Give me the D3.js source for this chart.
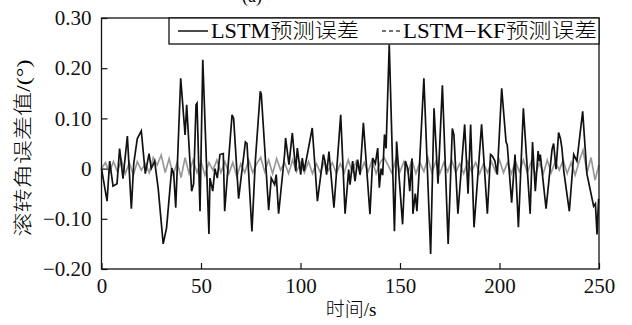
<!DOCTYPE html>
<html>
<head>
<meta charset="utf-8">
<script src="https://cdn.jsdelivr.net/npm/d3@7"></script>
<style>
  body { margin: 0; background: #fff; }
  svg { font-family: "Liberation Serif", "Noto Sans CJK SC", serif; }
</style>
</head>
<body>
<svg width="632" height="325"></svg>
<script>
// LSTM error (black, solid) — time (s) and value (deg)
const lstmTimes = [0, 2.8, 4.1, 5.8, 7.8, 9.1, 10.8, 13, 15, 16.2, 18, 20, 22, 23.9, 25, 26.7, 28.5, 31,
  32.7, 35.3, 36.3, 37.3, 39.8, 42, 42.8, 45.3, 46.3, 47.5, 48, 49.5, 50.9, 54, 54.5, 55.9, 57, 58.2, 59.5, 61.2,
  61.9, 65.6, 66.4, 68.9, 72.3, 73.1, 75.6, 77.3, 79.8, 80.3, 84, 85.3, 87, 87.8, 89, 92,
  92.5, 94.2, 95.9, 97.6, 98.4, 100.1, 100.9, 101.8, 103.5, 105.9, 108.5, 111.5, 112.3, 113.1, 114.3, 116.8, 120.2, 122.4,
  124.2, 124.9, 126.2, 127.4, 128.7, 129.9, 131.6, 134.9, 136.3, 137.6, 138.8, 139.6, 140.5, 141.3, 142.2, 143, 144.6,
  147.2, 148.3, 149.7, 151.3, 152.7, 154, 154.9, 156, 156.5, 157.7, 158.5, 159.9, 162, 165.4, 167.1, 169.1, 171.3,
  174.2, 176.3, 177.1, 179.1, 182.5, 184.2, 185.5, 187.2, 191, 193.9, 195.5, 196.4, 197.7, 198.9, 201.1, 203.3, 203.9,
  206.1, 207.3, 207.8, 209.5, 212, 215.4, 216.6, 218, 219.4, 220, 220.5, 223.4, 226.4, 227.2, 228.4, 229.7, 230.6,
  231.4, 232.3, 235.1, 237.3, 238.9, 241.8, 243.9, 247.3, 248.2, 249, 249.8];
const lstmValues = [0, -0.065, 0.015, -0.035, -0.03, 0.04, -0.02, 0.065, -0.08, 0.01, 0.06, 0.075, -0.01, 0.03, 0, 0.015, -0.04, -0.15,
  -0.118, 0.001, -0.01, -0.078, 0.18, 0.067, 0.127, -0.045, -0.03, 0.127, 0.13, -0.085, 0.217, -0.13, -0.019, -0.045, 0, -0.019, 0.028, 0.03,
  -0.085, 0.107, 0.1, -0.06, 0.053, 0.05, -0.125, 0.015, 0.154, 0.148, -0.083, -0.019, -0.032, -0.012, -0.09, 0.028,
  0.061, 0.008, 0.071, -0.005, 0.041, -0.012, 0.021, -0.005, 0.03, 0.081, -0.065, 0.028, 0.015, -0.012, 0.034, -0.078, 0.107, -0.09,
  -0.002, -0.032, 0.015, -0.025, 0.018, -0.012, 0.091, -0.091, 0.021, 0.01, 0.041, -0.038, 0, -0.013, 0.068, 0.04, 0.247,
  -0.125, 0.054, -0.025, -0.111, 0.015, -0.001, -0.045, 0.02, -0.09, -0.05, -0.085, 0.015, 0.18, -0.17, 0.12, -0.03, 0.166,
  -0.15, 0.08, 0.067, -0.09, 0.088, -0.05, 0.088, -0.117, 0.088, -0.09, 0.028, 0.025, 0.015, -0.012, 0.16, 0.053, 0.047,
  -0.068, 0, 0.028, -0.117, 0.12, -0.09, 0.053, -0.045, 0.035, 0.015, 0.028, -0.08, 0.038, 0.05, -0.001, 0.072, 0.06,
  0.04, -0.005, -0.085, 0.028, 0.015, 0.114, -0.01, -0.075, -0.07, -0.131, -0.06];

// LSTM-KF error (grey), sampled every 2 s
const kfTimes = d3.range(0, 251, 2);
const kfValues = [0, 0.012, -0.008, 0.014, -0.006, 0.017, -0.01, 0.012, -0.013, 0.014, -0.003, 0.01, -0.008, 0.022, 0.007, 0.027,
  -0.008, 0.02, -0.013, 0.012, -0.018, 0.022, -0.01, 0.017, -0.008, 0.014, -0.013, 0.012, -0.003, 0.017, -0.008, 0.014,
  -0.01, 0.012, -0.016, 0.01, -0.008, 0.017, -0.008, 0.01, 0.022, -0.006, 0.017, -0.01, 0.02, -0.003, 0.012, -0.01,
  0.017, -0.006, 0.012, -0.008, 0.014, -0.01, 0.01, -0.008, 0.014, -0.004, 0.012, -0.01, 0.01, -0.008, 0.017, -0.006,
  0.014, -0.01, 0.012, -0.006, 0.017, -0.01, 0.012, 0.022, 0.007, -0.01, 0.02, -0.006, 0.014, -0.008, 0.017, -0.01,
  0.012, -0.006, 0.022, -0.008, 0.014, -0.01, 0.012, -0.006, 0.017, -0.008, 0.01, -0.01, 0.014, -0.006, 0.012, -0.01,
  0.01, -0.008, 0.014, -0.006, 0.017, -0.008, 0.012, -0.01, 0.014, -0.006, 0.017, -0.008, 0.014, -0.013, 0.012, -0.01,
  0.017, -0.008, 0.014, -0.003, 0.017, -0.01, 0.012, -0.013, 0.014, 0.037, -0.008, 0.022, -0.023, 0.007];

const xTicks = [0, 50, 100, 150, 200, 250];
const yTicks = [-0.2, -0.1, 0, 0.1, 0.2, 0.3];

const svg = d3.select('svg');
const plotLeft = 101.5, plotRight = 599, plotTop = 18, plotBottom = 269;

const x = d3.scaleLinear().domain([0, 250]).range([plotLeft, plotRight]);
const y = d3.scaleLinear().domain([-0.2, 0.3]).range([plotBottom, plotTop]);

const line = d3.line().x(d => x(d[0])).y(d => y(d[1]));

svg.append('path')
  .datum(d3.zip(kfTimes, kfValues))
  .attr('d', line)
  .attr('fill', 'none')
  .attr('stroke', '#999')
  .attr('stroke-width', 1.7);

svg.append('path')
  .datum(d3.zip(lstmTimes, lstmValues))
  .attr('d', line)
  .attr('fill', 'none')
  .attr('stroke', '#111')
  .attr('stroke-width', 1.7);

// axes, ticks pointing inward
const xAxis = svg.append('g')
  .attr('transform', `translate(0,${plotBottom})`)
  .call(d3.axisBottom(x).tickValues(xTicks).tickSizeInner(-6).tickSizeOuter(0).tickPadding(9));
const yAxis = svg.append('g')
  .attr('transform', `translate(${plotLeft},0)`)
  .call(d3.axisLeft(y).tickValues(yTicks).tickSizeInner(-6).tickSizeOuter(0).tickPadding(10)
    .tickFormat(d => d === 0 ? '0' : d3.format('.2f')(d).replace('-', '\u2212')));

[xAxis, yAxis].forEach(g => {
  g.selectAll('text').attr('font-size', 21).attr('fill', '#111')
    .attr('font-family', '"Liberation Serif", serif');
  g.selectAll('line').attr('stroke', '#111').attr('stroke-width', 1.2);
  g.select('.domain').remove();
});

svg.append('rect')
  .attr('x', plotLeft).attr('y', plotTop)
  .attr('width', plotRight - plotLeft).attr('height', plotBottom - plotTop)
  .attr('fill', 'none').attr('stroke', '#111').attr('stroke-width', 1.3);

// legend
const lg = svg.append('g');
lg.append('rect')
  .attr('x', 169).attr('y', plotTop).attr('width', plotRight - 169).attr('height', 26)
  .attr('fill', '#fff').attr('stroke', '#111').attr('stroke-width', 1.3);
lg.append('line').attr('x1', 178).attr('x2', 208).attr('y1', 31).attr('y2', 31)
  .attr('stroke', '#111').attr('stroke-width', 1.5);
lg.append('text').attr('x', 211).attr('y', 38).attr('font-size', 20).attr('font-weight', 300)
  .attr('textLength', 148).attr('lengthAdjust', 'spacingAndGlyphs')
  .text('LSTM预测误差');
lg.append('line').attr('x1', 382).attr('x2', 401).attr('y1', 31).attr('y2', 31)
  .attr('stroke', '#444').attr('stroke-width', 1.5).attr('stroke-dasharray', '4,3');
lg.append('text').attr('x', 403).attr('y', 38).attr('font-size', 20).attr('font-weight', 300)
  .attr('textLength', 194).attr('lengthAdjust', 'spacingAndGlyphs')
  .text('LSTM\u2212KF预测误差');

// labels
svg.append('text').attr('x', 351).attr('y', 316).attr('text-anchor', 'middle')
  .attr('font-size', 19).attr('font-weight', 300).text('时间/s');
svg.append('text')
  .attr('transform', 'translate(30,148) rotate(-90)')
  .attr('text-anchor', 'middle').attr('font-size', 19).attr('font-weight', 300)
  .attr('textLength', 177).attr('lengthAdjust', 'spacingAndGlyphs')
  .text('滚转角误差值/(°)');
svg.append('text').attr('x', 252).attr('y', 2).attr('text-anchor', 'middle')
  .attr('font-size', 18).text('(a)');
</script>
</body>
</html>
